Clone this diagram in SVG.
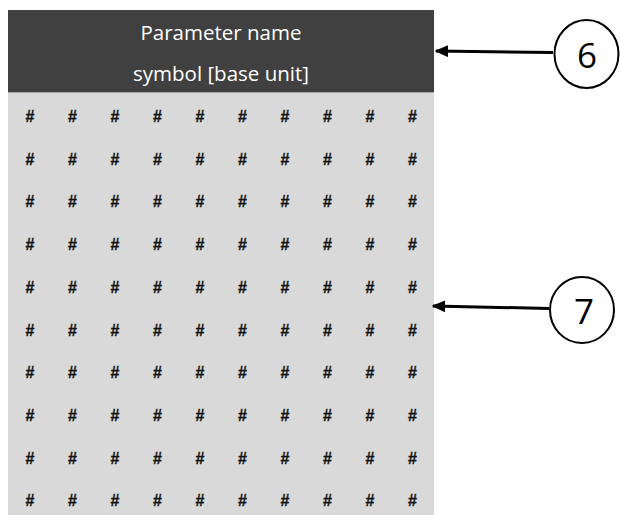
<svg xmlns="http://www.w3.org/2000/svg" width="620" height="515" viewBox="0 0 620 515">
<defs>
<style>
.hdr{font-family:"Open Sans","Liberation Sans",sans-serif;font-size:20.5px;fill:#ffffff;text-anchor:middle}
.h{font-family:"Liberation Sans",sans-serif;font-size:16px;font-weight:bold;fill:#111111;stroke:#111111;stroke-width:0.3;text-anchor:middle}
.num{font-family:"Open Sans","Liberation Sans",sans-serif;font-size:35px;fill:#000;text-anchor:middle}
.lead{stroke:#000;stroke-width:3;fill:none}
.circ{stroke:#000;stroke-width:2;fill:#fff}
</style>
<marker id="ah" viewBox="0 0 10 10" refX="9" refY="5" markerWidth="4.5" markerHeight="4" orient="auto" markerUnits="strokeWidth" preserveAspectRatio="none">
<path d="M0,0 L10,5 L0,10 z" fill="#000"/>
</marker>
</defs>
<rect width="620" height="515" fill="#ffffff"/>
<g id="table">
<rect x="8" y="92" width="426" height="423" fill="#d9d9d9"/>
<rect x="8" y="10" width="426" height="82" fill="#404040"/>
<line x1="8" y1="92.5" x2="434" y2="92.5" stroke="#a6a6a6" stroke-width="1"/>
<text class="hdr" x="221" y="40">Parameter name</text>
<text class="hdr" x="221" y="81">symbol [base unit]</text>
<g id="cells">
<text class="h" x="30" y="122">#</text><text class="h" x="72.5" y="122">#</text><text class="h" x="115" y="122">#</text><text class="h" x="157.5" y="122">#</text><text class="h" x="200" y="122">#</text><text class="h" x="242.5" y="122">#</text><text class="h" x="285" y="122">#</text><text class="h" x="327.5" y="122">#</text><text class="h" x="370" y="122">#</text><text class="h" x="412.5" y="122">#</text>
<text class="h" x="30" y="164.7">#</text><text class="h" x="72.5" y="164.7">#</text><text class="h" x="115" y="164.7">#</text><text class="h" x="157.5" y="164.7">#</text><text class="h" x="200" y="164.7">#</text><text class="h" x="242.5" y="164.7">#</text><text class="h" x="285" y="164.7">#</text><text class="h" x="327.5" y="164.7">#</text><text class="h" x="370" y="164.7">#</text><text class="h" x="412.5" y="164.7">#</text>
<text class="h" x="30" y="207.4">#</text><text class="h" x="72.5" y="207.4">#</text><text class="h" x="115" y="207.4">#</text><text class="h" x="157.5" y="207.4">#</text><text class="h" x="200" y="207.4">#</text><text class="h" x="242.5" y="207.4">#</text><text class="h" x="285" y="207.4">#</text><text class="h" x="327.5" y="207.4">#</text><text class="h" x="370" y="207.4">#</text><text class="h" x="412.5" y="207.4">#</text>
<text class="h" x="30" y="250.1">#</text><text class="h" x="72.5" y="250.1">#</text><text class="h" x="115" y="250.1">#</text><text class="h" x="157.5" y="250.1">#</text><text class="h" x="200" y="250.1">#</text><text class="h" x="242.5" y="250.1">#</text><text class="h" x="285" y="250.1">#</text><text class="h" x="327.5" y="250.1">#</text><text class="h" x="370" y="250.1">#</text><text class="h" x="412.5" y="250.1">#</text>
<text class="h" x="30" y="292.8">#</text><text class="h" x="72.5" y="292.8">#</text><text class="h" x="115" y="292.8">#</text><text class="h" x="157.5" y="292.8">#</text><text class="h" x="200" y="292.8">#</text><text class="h" x="242.5" y="292.8">#</text><text class="h" x="285" y="292.8">#</text><text class="h" x="327.5" y="292.8">#</text><text class="h" x="370" y="292.8">#</text><text class="h" x="412.5" y="292.8">#</text>
<text class="h" x="30" y="335.5">#</text><text class="h" x="72.5" y="335.5">#</text><text class="h" x="115" y="335.5">#</text><text class="h" x="157.5" y="335.5">#</text><text class="h" x="200" y="335.5">#</text><text class="h" x="242.5" y="335.5">#</text><text class="h" x="285" y="335.5">#</text><text class="h" x="327.5" y="335.5">#</text><text class="h" x="370" y="335.5">#</text><text class="h" x="412.5" y="335.5">#</text>
<text class="h" x="30" y="378.2">#</text><text class="h" x="72.5" y="378.2">#</text><text class="h" x="115" y="378.2">#</text><text class="h" x="157.5" y="378.2">#</text><text class="h" x="200" y="378.2">#</text><text class="h" x="242.5" y="378.2">#</text><text class="h" x="285" y="378.2">#</text><text class="h" x="327.5" y="378.2">#</text><text class="h" x="370" y="378.2">#</text><text class="h" x="412.5" y="378.2">#</text>
<text class="h" x="30" y="420.9">#</text><text class="h" x="72.5" y="420.9">#</text><text class="h" x="115" y="420.9">#</text><text class="h" x="157.5" y="420.9">#</text><text class="h" x="200" y="420.9">#</text><text class="h" x="242.5" y="420.9">#</text><text class="h" x="285" y="420.9">#</text><text class="h" x="327.5" y="420.9">#</text><text class="h" x="370" y="420.9">#</text><text class="h" x="412.5" y="420.9">#</text>
<text class="h" x="30" y="463.6">#</text><text class="h" x="72.5" y="463.6">#</text><text class="h" x="115" y="463.6">#</text><text class="h" x="157.5" y="463.6">#</text><text class="h" x="200" y="463.6">#</text><text class="h" x="242.5" y="463.6">#</text><text class="h" x="285" y="463.6">#</text><text class="h" x="327.5" y="463.6">#</text><text class="h" x="370" y="463.6">#</text><text class="h" x="412.5" y="463.6">#</text>
<text class="h" x="30" y="506.3">#</text><text class="h" x="72.5" y="506.3">#</text><text class="h" x="115" y="506.3">#</text><text class="h" x="157.5" y="506.3">#</text><text class="h" x="200" y="506.3">#</text><text class="h" x="242.5" y="506.3">#</text><text class="h" x="285" y="506.3">#</text><text class="h" x="327.5" y="506.3">#</text><text class="h" x="370" y="506.3">#</text><text class="h" x="412.5" y="506.3">#</text>
</g>
</g>
<g id="connectors">
<line class="lead" x1="553" y1="52.5" x2="436" y2="51" marker-end="url(#ah)"/>
<line class="lead" x1="549" y1="308.5" x2="433" y2="306" marker-end="url(#ah)"/>
</g>
<g id="callout6">
<ellipse class="circ" cx="586.5" cy="54" rx="32" ry="34"/>
<text class="num" x="587" y="68">6</text>
</g>
<g id="callout7">
<ellipse class="circ" cx="582" cy="310" rx="32" ry="33"/>
<text class="num" x="584" y="324">7</text>
</g>
</svg>
